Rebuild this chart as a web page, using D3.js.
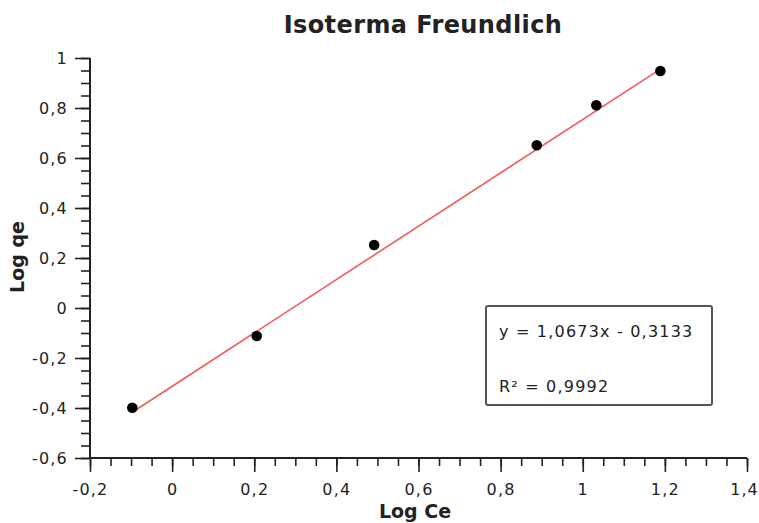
<!DOCTYPE html>
<html>
<head>
<meta charset="utf-8">
<script src="https://cdn.jsdelivr.net/npm/d3@7"></script>
<style>
  body { margin: 0; background: #fff; }
  text { font-family: "DejaVu Sans", Verdana, sans-serif; fill: #222; }
</style>
</head>
<body>
<svg class="chart"></svg>
<script>
// data
const logCe = [-0.097, 0.206, 0.492, 0.888, 1.033, 1.189];
const logQe = [-0.399, -0.112, 0.252, 0.651, 0.811, 0.948];
const fit = [1.0673, -0.3133]; // slope, intercept
const xTicks = [-0.2, 0, 0.2, 0.4, 0.6, 0.8, 1, 1.2, 1.4];
const yTicks = [-0.6, -0.4, -0.2, 0, 0.2, 0.4, 0.6, 0.8, 1];
const eqLabels = ["y = 1,0673x - 0,3133", "R\u00b2 = 0,9992"];

const W = 759, H = 523;
const margin = {top: 58, right: 12, bottom: 65, left: 90};
const width = W - margin.left - margin.right;
const height = H - margin.top - margin.bottom;

const x = d3.scaleLinear().domain([-0.2, 1.4]).range([0, width]);
const y = d3.scaleLinear().domain([-0.6, 1]).range([height, 0]);
const fmt = d => String(+d.toFixed(1)).replace(".", ",");

const svg = d3.select(".chart").attr("width", W).attr("height", H);
const g = svg.append("g").attr("transform", "translate(" + margin.left + "," + margin.top + ")");

// minor ticks every 0.05
const xMinor = d3.range(-0.2, 1.4001, 0.05);
const yMinor = d3.range(-0.6, 1.0001, 0.05);

g.append("g").attr("transform", "translate(0," + height + ")")
  .call(d3.axisBottom(x).tickValues(xMinor).tickSize(8).tickFormat(""))
  .call(a => a.select(".domain").remove());
const xMaj = g.append("g").attr("transform", "translate(0," + height + ")")
  .call(d3.axisBottom(x).tickValues(xTicks).tickSize(14).tickPadding(12).tickFormat(fmt));

g.append("g")
  .call(d3.axisLeft(y).tickValues(yMinor).tickSize(9).tickFormat(""))
  .call(a => a.select(".domain").remove());
const yMaj = g.append("g")
  .call(d3.axisLeft(y).tickValues(yTicks).tickSize(15).tickPadding(7).tickFormat(fmt));

g.selectAll(".tick line").attr("stroke", "#222").attr("stroke-width", 1.6);
// plain axis lines without end caps
xMaj.select(".domain").attr("d", "M0,0H" + width).attr("stroke", "#222").attr("stroke-width", 2);
yMaj.select(".domain").attr("d", "M0,0V" + height).attr("stroke", "#222").attr("stroke-width", 2);
g.selectAll(".tick text").style("font-size", "16px").style("letter-spacing", "1.2px")
  .attr("fill", "#222");
// keep the last label inside the window
xMaj.selectAll(".tick text").filter(d => d === 1.4).attr("dx", -3).style("letter-spacing", "1px");

// trend line
const x0 = d3.min(logCe), x1 = d3.max(logCe);
g.append("line")
  .attr("x1", x(x0)).attr("y1", y(fit[0] * x0 + fit[1]))
  .attr("x2", x(x1)).attr("y2", y(fit[0] * x1 + fit[1]))
  .attr("stroke", "#f25b5b").attr("stroke-width", 1.6);

// points
g.selectAll(".dot")
  .data(logCe.map((v, i) => [v, logQe[i]]))
  .enter().append("circle")
    .attr("class", "dot")
    .attr("cx", d => x(d[0]))
    .attr("cy", d => y(d[1]))
    .attr("r", 5.3)
    .attr("fill", "#000");

// equation box
svg.append("rect")
  .attr("x", 486).attr("y", 306).attr("width", 226).attr("height", 99)
  .attr("rx", 2)
  .attr("fill", "#fff").attr("stroke", "#555").attr("stroke-width", 2);
svg.selectAll(".eq")
  .data(eqLabels)
  .enter().append("text")
    .attr("class", "eq")
    .attr("x", 499)
    .attr("y", (d, i) => 337 + i * 55)
    .style("font-size", "16px").style("letter-spacing", "1.2px")
    .text(d => d);

// title
svg.append("text")
  .attr("x", 423).attr("y", 33)
  .style("text-anchor", "middle")
  .style("font-size", "24px").style("font-weight", "bold").style("letter-spacing", "0.4px")
  .attr("fill", "#111")
  .text("Isoterma Freundlich");

// axis titles
svg.append("text")
  .attr("x", 415).attr("y", 518)
  .style("text-anchor", "middle")
  .style("font-size", "19px").style("font-weight", "bold")
  .attr("fill", "#111")
  .text("Log Ce");

svg.append("text")
  .attr("transform", "translate(24,257) rotate(-90)")
  .style("text-anchor", "middle")
  .style("font-size", "19px").style("font-weight", "bold")
  .attr("fill", "#111")
  .text("Log qe");
</script>
</body>
</html>
